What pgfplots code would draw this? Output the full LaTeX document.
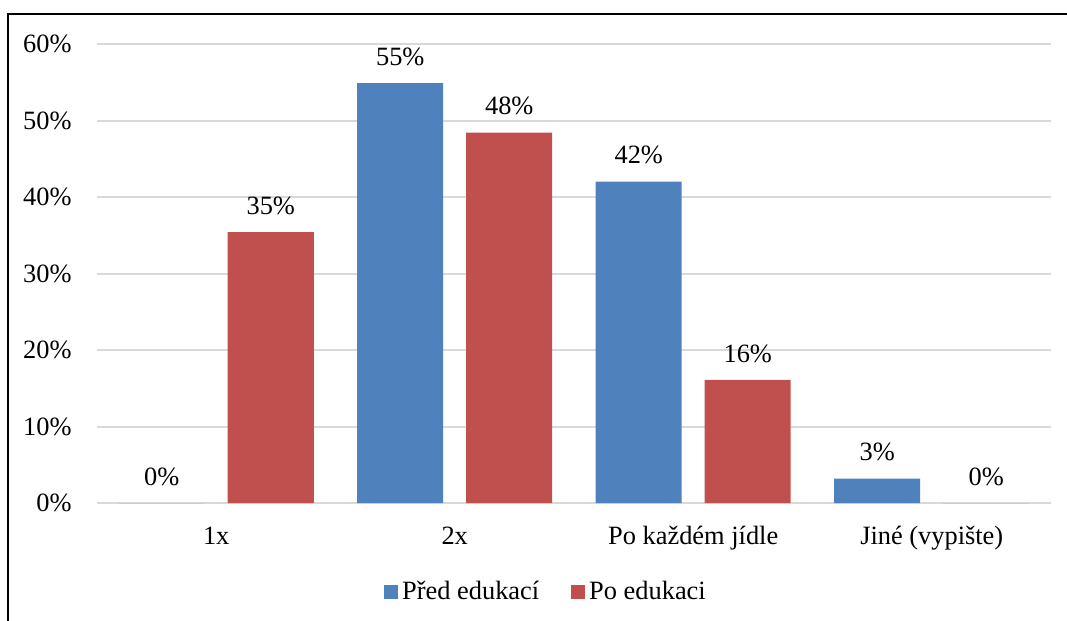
\documentclass[border=0pt]{standalone}
\usepackage{fontspec}
\setmainfont{Liberation Serif}
\usepackage{pgfplots}
\pgfplotsset{compat=1.18}
\definecolor{cblue}{HTML}{4F81BD}
\definecolor{cred}{HTML}{C0504D}
\definecolor{cgrid}{HTML}{D9D9D9}
\newcommand{\cf}{\fontsize{13.2}{15}\selectfont}
\begin{document}
\cf
\begin{tikzpicture}
\useasboundingbox (-48.5pt,-59pt) rectangle (485pt,251.5pt);
\draw[line width=1pt] (-44.5pt,-59pt) -- (-44.5pt,244.5pt) -- (485pt,244.5pt);
\begin{axis}[
  at={(0,0)}, anchor=south west,
  scale only axis, width=477pt, height=229.5pt,
  ybar=11.5pt, bar width=43pt,
  xmin=-0.5, xmax=3.5, ymin=0, ymax=60,
  xtick={0,1,2,3},
  xticklabels={1x,2x,Po každém jídle,Jiné (vypište)},
  ytick={0,10,20,30,40,50,60},
  yticklabels={{\cf 0\%},{\cf 10\%},{\cf 20\%},{\cf 30\%},{\cf 40\%},{\cf 50\%},{\cf 60\%}},
  ymajorgrids, grid style={cgrid, line width=1pt},
  axis line style={draw=none},
  major tick length=0pt,
  tick label style={font=\cf},
  yticklabel style={inner sep=0pt, anchor=east, xshift=-12.5pt},
  xticklabel style={inner sep=0pt, anchor=north, yshift=-11.5pt, text height=8.8pt},
  nodes near coords={\pgfmathprintnumber[fixed,precision=0,assume math mode=true]{\pgfplotspointmeta}\%},
  nodes near coords style={anchor=south, inner sep=0pt, yshift=8.5pt, font=\cf, text=black},
  clip=false,
  legend style={at={(0.4717,-0.1939)}, anchor=center, draw=none, fill=none,
    legend columns=2, font=\cf,
    /tikz/every even column/.append style={column sep=14pt}},
  legend image code/.code={\fill[#1] (0pt,-3.5pt) rectangle (7pt,3.5pt);},
]
\addplot[fill=cblue, draw=none] coordinates {(0,0) (1,54.9) (2,42.0) (3,3.2)};
\addplot[fill=cred, draw=none] coordinates {(0,35.4) (1,48.4) (2,16.1) (3,0)};
\legend{Před edukací, Po edukaci}
\end{axis}
\end{tikzpicture}
\end{document}
